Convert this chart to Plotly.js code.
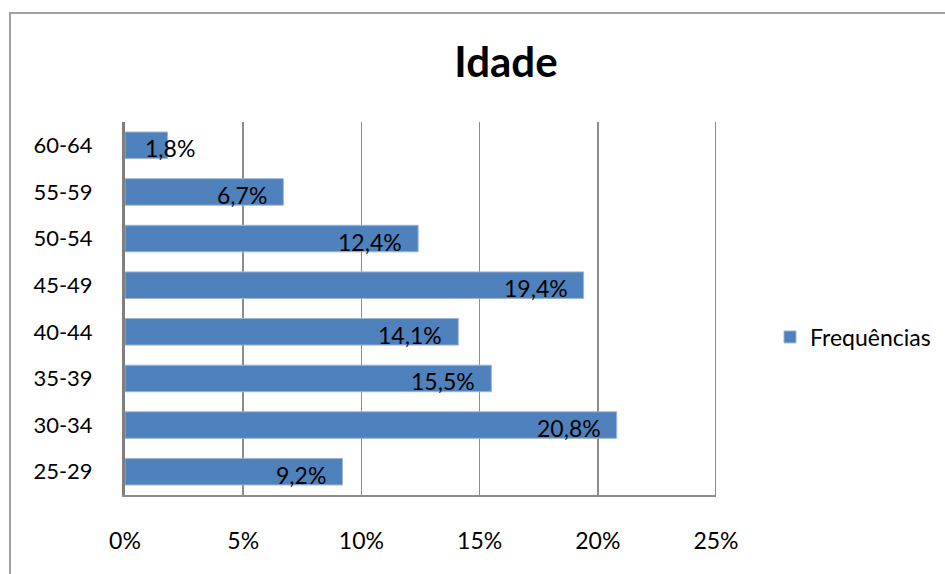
<!DOCTYPE html>
<html>
<head>
<meta charset="utf-8">
<script src="https://cdn.plot.ly/plotly-3.0.1.min.js"></script>
<style>html,body{margin:0;padding:0;background:#fff;}#chart{width:945px;height:574px;}</style>
</head>
<body>
<div id="chart"></div>
<script>
const categories = ['25-29','30-34','35-39','40-44','45-49','50-54','55-59','60-64'];
const values = [9.2, 20.8, 15.5, 14.1, 19.4, 12.4, 6.7, 1.8];
const labels = ['9,2%','20,8%','15,5%','14,1%','19,4%','12,4%','6,7%','1,8%'];
const tickVals = [0, 5, 10, 15, 20, 25];
const tickText = ['0%','5%','10%','15%','20%','25%'];
const seriesName = 'Frequências';
const chartTitle = 'Idade';

const FONT = 'Lato, "Open Sans", sans-serif';
const L = 125, R = 716, T = 122, B = 495, W = 945, H = 574;
const pw = R - L, ph = B - T;

const annotations = categories.map((c, i) => {
  const small = values[i] < 3;
  return {
    x: values[i], y: c, xref: 'x', yref: 'y',
    text: labels[i], showarrow: false,
    xanchor: small ? 'center' : 'right',
    xshift: small ? 2 : -14, yshift: -3,
    font: {family: FONT, size: 23, color: '#000'}
  };
});

const trace = {
  type: 'bar', orientation: 'h',
  x: values, y: categories, name: seriesName,
  marker: {color: '#4F81BD', line: {color: '#9DB6D8', width: 1}},
  hoverinfo: 'none'
};

const xMax = tickVals[tickVals.length - 1];

const layout = {
  width: W, height: H,
  margin: {l: L, r: W - R, t: T, b: H - B, pad: 0, autoexpand: false},
  paper_bgcolor: '#fff', plot_bgcolor: '#fff',
  font: {family: FONT, size: 23, color: '#000'},
  title: {text: '<b>' + chartTitle + '</b>', font: {family: FONT, size: 42, color: '#000'},
          x: 506 / W, xref: 'container', xanchor: 'center',
          y: 1 - 62 / H, yref: 'container', yanchor: 'middle'},
  bargap: 0.43,
  xaxis: {range: [0, xMax], tickvals: tickVals, ticktext: tickText,
          showgrid: true, gridcolor: '#8C8C8C', gridwidth: 1.5,
          zeroline: false, showline: true, linecolor: '#8C8C8C', linewidth: 2,
          ticks: '', ticklabelstandoff: 24, fixedrange: true, automargin: false,
          tickfont: {family: FONT, size: 23, color: '#000'}},
  yaxis: {type: 'category', categoryorder: 'array', categoryarray: categories,
          showgrid: false, zeroline: false, showline: true, linecolor: '#7F7F7F', linewidth: 3,
          ticks: '', ticklabelstandoff: 25, fixedrange: true, automargin: false,
          tickfont: {family: FONT, size: 22, color: '#000'}},
  showlegend: true,
  legend: {x: (770 - L) / pw, xanchor: 'left', y: (B - 337) / ph, yanchor: 'middle',
           font: {family: FONT, size: 23, color: '#000'}, bgcolor: 'rgba(0,0,0,0)'},
  annotations: annotations,
  shapes: [
    {type: 'rect', xref: 'paper', yref: 'paper',
     x0: (10 - L) / pw, x1: (1200 - L) / pw,
     y0: (B - 800) / ph, y1: (B - 13) / ph,
     line: {color: '#A0A0A0', width: 2}, fillcolor: 'rgba(0,0,0,0)', layer: 'below'},
    {type: 'line', xref: 'x', yref: 'paper', x0: xMax, x1: xMax, y0: 0, y1: 1,
     line: {color: '#8C8C8C', width: 2}, layer: 'below'}
  ]
};

Plotly.newPlot('chart', [trace], layout, {displayModeBar: false, staticPlot: true});
</script>
</body>
</html>
